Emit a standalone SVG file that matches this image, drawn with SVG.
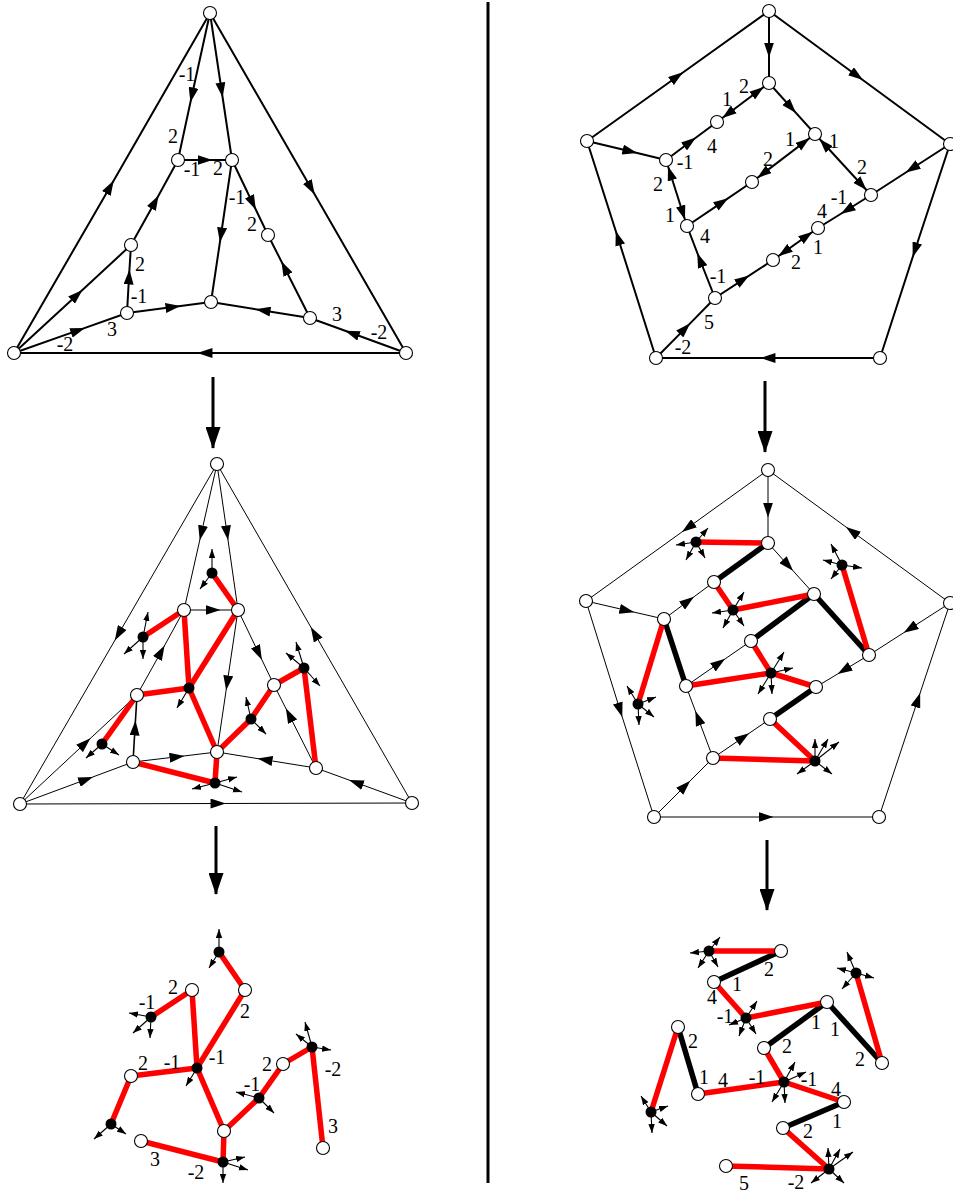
<svg xmlns="http://www.w3.org/2000/svg" width="953" height="1196" viewBox="0 0 953 1196">
<defs>
<marker id="ah" markerUnits="userSpaceOnUse" markerWidth="15" markerHeight="10" viewBox="0 0 14 9.4" refX="7" refY="4.7" orient="auto"><path d="M0,0 L14,4.7 L0,9.4 z" fill="#000"/></marker>
<marker id="ae" markerUnits="userSpaceOnUse" markerWidth="21" markerHeight="10" viewBox="0 0 20.5 9.4" refX="20.5" refY="4.7" orient="auto-start-reverse"><path d="M0,0 L14,4.7 L0,9.4 z" fill="#000"/></marker>
<marker id="sa" markerUnits="userSpaceOnUse" markerWidth="9" markerHeight="7" viewBox="0 0 8.5 6" refX="8.5" refY="3" orient="auto"><path d="M0,0 L8.5,3 L0,6 z" fill="#000"/></marker>
<marker id="big" markerUnits="userSpaceOnUse" markerWidth="22" markerHeight="15" viewBox="0 0 22 15" refX="21" refY="7.5" orient="auto"><path d="M0,0 L22,7.5 L0,15 z" fill="#000"/></marker>
</defs>
<style>
.e{stroke:#000;stroke-width:2;fill:none;marker-mid:url(#ah)}
.d{stroke:#000;stroke-width:2;fill:none;marker-start:url(#ae);marker-end:url(#ae)}
.t{stroke:#000;stroke-width:1;fill:none;marker-mid:url(#ah)}
.r{stroke:#f00;stroke-width:5.5;fill:none}
.k{stroke:#000;stroke-width:5.5;fill:none}
.s{stroke:#000;stroke-width:1.1;fill:none;marker-end:url(#sa)}
.n{fill:#fff;stroke:#000;stroke-width:1.1}
.b{fill:#000}
.bg{stroke:#000;stroke-width:3;fill:none;marker-end:url(#big)}
text{font-family:"Liberation Serif","DejaVu Serif",serif;font-size:20px;text-anchor:middle;fill:#000}
</style>
<rect width="953" height="1196" fill="#fff"/>
<g id="connectors">
<line x1="488" y1="2" x2="488" y2="1183" stroke="#000" stroke-width="3"/>
<path class="bg" d="M213 377 L213 448"/>
<path class="bg" d="M216 826 L216 894"/>
<path class="bg" d="M765 381 L765 452"/>
<path class="bg" d="M767 840 L767 910"/>
<!-- panel A -->
<path class="e" d="M14 353 L110 187 L210 13"/>
<path class="e" d="M210 13 L311 188 L406 353"/>
<path class="e" d="M210 13 L192 95 L178 160"/>
<path class="e" d="M210 13 L221.5 90 L232 160"/>
<path class="e" d="M178 160 L205 160 L232 160"/>
<path class="e" d="M131 245 L155 202 L178 160"/>
<path class="e" d="M232 160 L221 235 L211 302"/>
<path class="e" d="M232 160 L252.6 203 L268 235"/>
<path class="e" d="M14 353 L77 295 L131 245"/>
<path class="e" d="M127 313 L129 277 L131 245"/>
<path class="e" d="M127 313 L173 307 L211 302"/>
<path class="e" d="M14 353 L78 330.4 L127 313"/>
<path class="e" d="M310 318 L263 310.4 L211 302"/>
<path class="e" d="M310 318 L284.7 268 L268 235"/>
<path class="e" d="M406 353 L352 333.3 L310 318"/>
<path class="e" d="M406 353 L205 353 L14 353"/>
<!-- panel B -->
<path class="e" d="M587 141 L677 76.7 L769 11"/>
<path class="e" d="M769 11 L857 75.7 L950 144"/>
<path class="e" d="M769 11 L769 50 L769 83"/>
<path class="e" d="M769 83 L791 107.4 L815 134"/>
<path class="e" d="M666 160 L690 142 L717 122"/>
<path class="e" d="M587 141 L630 151.3 L666 160"/>
<path class="e" d="M687 226 L722 202.3 L752 182"/>
<path class="e" d="M950 144 L912 168.5 L871 195"/>
<path class="e" d="M871 195 L847 210 L818 228"/>
<path class="e" d="M715 298 L743 279.6 L773 260"/>
<path class="e" d="M715 298 L700 260 L687 226"/>
<path class="e" d="M656 358 L685 328.6 L715 298"/>
<path class="e" d="M656 358 L618 238 L587 141"/>
<path class="e" d="M950 144 L915 250 L880 358"/>
<path class="e" d="M880 358 L768 358 L656 358"/>
<path class="d" d="M769 83 L717 122"/>
<path class="d" d="M666 160 L687 226"/>
<path class="d" d="M752 182 L815 134"/>
<path class="d" d="M815 134 L871 195"/>
<path class="d" d="M818 228 L773 260"/>
<!-- panel C -->
<path class="t" d="M217 464 L118.5 634 L20 804"/>
<path class="t" d="M412 803 L314.5 633.5 L217 464"/>
<path class="t" d="M217 464 L201.4 533 L184 610"/>
<path class="t" d="M217 464 L227 533 L238 610"/>
<path class="t" d="M184 610 L213 610 L238 610"/>
<path class="t" d="M137 695 L161 652 L184 610"/>
<path class="t" d="M238 610 L258.6 653 L274 685"/>
<path class="t" d="M238 610 L227.2 683 L217 752"/>
<path class="t" d="M20 804 L85 743.4 L137 695"/>
<path class="t" d="M133 762 L135 728 L137 695" style="stroke-width:1.6"/>
<path class="t" d="M133 762 L177 756.8 L217 752"/>
<path class="t" d="M20 804 L86 779.5 L133 762"/>
<path class="t" d="M316 768 L265 759.8 L217 752"/>
<path class="t" d="M316 768 L289.2 715 L274 685"/>
<path class="t" d="M412 803 L356 782.6 L316 768"/>
<path class="t" d="M20 804 L218 803.5 L412 803"/>
<path class="r" d="M212 573 L238 610"/>
<path class="r" d="M184 610 L143 637"/>
<path class="r" d="M184 610 L189 688"/>
<path class="r" d="M238 610 L189 688"/>
<path class="r" d="M137 695 L189 688"/>
<path class="r" d="M137 695 L102 744"/>
<path class="r" d="M189 688 L217 752"/>
<path class="r" d="M217 752 L251 719"/>
<path class="r" d="M251 719 L274 685"/>
<path class="r" d="M274 685 L304 668"/>
<path class="r" d="M304 668 L316 768"/>
<path class="r" d="M217 752 L215 783"/>
<path class="r" d="M133 762 L215 783"/>
<!-- panel D -->
<path class="t" d="M768 470 L688 527.6 L586 601"/>
<path class="t" d="M950 603 L852 531.4 L768 470"/>
<path class="t" d="M768 470 L768 510 L768 543"/>
<path class="t" d="M768 543 L788 565.2 L814 594"/>
<path class="t" d="M586 601 L627 610.5 L664 619"/>
<path class="t" d="M664 619 L688 601.2 L714 582"/>
<path class="t" d="M950 603 L910 628.7 L869 655"/>
<path class="t" d="M686 686 L719 663.1 L751 641"/>
<path class="t" d="M869 655 L844 670.1 L816 687"/>
<path class="t" d="M713 758 L698 718 L686 686"/>
<path class="t" d="M713 758 L743 737.5 L770 719"/>
<path class="t" d="M654 817 L685 786 L713 758"/>
<path class="t" d="M586 601 L620 710 L654 817"/>
<path class="t" d="M879 817 L917.8 700 L950 603"/>
<path class="t" d="M654 817 L766 817 L879 817"/>
<path class="k" d="M768 543 L714 582"/>
<path class="k" d="M814 594 L751 641"/>
<path class="k" d="M814 594 L869 655"/>
<path class="k" d="M664 619 L686 686"/>
<path class="k" d="M816 687 L770 719"/>
<path class="r" d="M696 542 L768 543"/>
<path class="r" d="M714 582 L733 610"/>
<path class="r" d="M733 610 L814 594"/>
<path class="r" d="M842 565 L869 655"/>
<path class="r" d="M664 619 L638 704"/>
<path class="r" d="M751 641 L771 673"/>
<path class="r" d="M771 673 L686 686"/>
<path class="r" d="M771 673 L816 687"/>
<path class="r" d="M770 719 L815 761"/>
<path class="r" d="M713 758 L815 761"/>
<!-- panel E -->
<path class="r" d="M219 952 L245 990"/>
<path class="r" d="M192 990 L151 1017"/>
<path class="r" d="M192 990 L197 1068"/>
<path class="r" d="M245 990 L197 1068"/>
<path class="r" d="M131 1076 L197 1068"/>
<path class="r" d="M131 1076 L111 1124"/>
<path class="r" d="M197 1068 L224 1131"/>
<path class="r" d="M224 1131 L259 1098"/>
<path class="r" d="M259 1098 L283 1064"/>
<path class="r" d="M283 1064 L312 1047"/>
<path class="r" d="M312 1047 L323 1148"/>
<path class="r" d="M224 1131 L223 1162"/>
<path class="r" d="M141 1141 L223 1162"/>
<!-- panel F -->
<path class="k" d="M781 951 L714 982"/>
<path class="k" d="M827 1002 L764 1048"/>
<path class="k" d="M827 1002 L882 1063"/>
<path class="k" d="M678 1027 L698 1094"/>
<path class="k" d="M844 1102 L783 1128"/>
<path class="r" d="M709 951 L781 951"/>
<path class="r" d="M714 982 L746 1018"/>
<path class="r" d="M746 1018 L827 1002"/>
<path class="r" d="M856 973 L882 1063"/>
<path class="r" d="M678 1027 L651 1112"/>
<path class="r" d="M764 1048 L784 1082"/>
<path class="r" d="M784 1082 L698 1094"/>
<path class="r" d="M784 1082 L844 1102"/>
<path class="r" d="M783 1128 L829 1169"/>
<path class="r" d="M726 1166 L829 1169"/>
</g>
<!-- panel A nodes -->
<g id="A-T"><circle class="n" cx="210" cy="13" r="6.5"/></g>
<g id="A-L"><circle class="n" cx="14" cy="353" r="6.5"/></g>
<g id="A-R"><circle class="n" cx="406" cy="353" r="6.5"/></g>
<g id="A-a"><circle class="n" cx="178" cy="160" r="6.5"/></g>
<g id="A-b"><circle class="n" cx="232" cy="160" r="6.5"/></g>
<g id="A-c"><circle class="n" cx="131" cy="245" r="6.5"/></g>
<g id="A-d"><circle class="n" cx="268" cy="235" r="6.5"/></g>
<g id="A-e"><circle class="n" cx="127" cy="313" r="6.5"/></g>
<g id="A-f"><circle class="n" cx="211" cy="302" r="6.5"/></g>
<g id="A-g"><circle class="n" cx="310" cy="318" r="6.5"/></g>
<!-- panel B nodes -->
<g id="B-P1"><circle class="n" cx="769" cy="11" r="6.5"/></g>
<g id="B-P2"><circle class="n" cx="587" cy="141" r="6.5"/></g>
<g id="B-P3"><circle class="n" cx="950" cy="144" r="6.5"/></g>
<g id="B-P4"><circle class="n" cx="656" cy="358" r="6.5"/></g>
<g id="B-P5"><circle class="n" cx="880" cy="358" r="6.5"/></g>
<g id="B-q1"><circle class="n" cx="769" cy="83" r="6.5"/></g>
<g id="B-q2"><circle class="n" cx="717" cy="122" r="6.5"/></g>
<g id="B-q3"><circle class="n" cx="666" cy="160" r="6.5"/></g>
<g id="B-q4"><circle class="n" cx="815" cy="134" r="6.5"/></g>
<g id="B-q5"><circle class="n" cx="752" cy="182" r="6.5"/></g>
<g id="B-q6"><circle class="n" cx="871" cy="195" r="6.5"/></g>
<g id="B-q7"><circle class="n" cx="687" cy="226" r="6.5"/></g>
<g id="B-q8"><circle class="n" cx="818" cy="228" r="6.5"/></g>
<g id="B-q9"><circle class="n" cx="773" cy="260" r="6.5"/></g>
<g id="B-q10"><circle class="n" cx="715" cy="298" r="6.5"/></g>
<!-- panel C nodes -->
<g id="C-T"><circle class="n" cx="217" cy="464" r="6.5"/></g>
<g id="C-L"><circle class="n" cx="20" cy="804" r="6.5"/></g>
<g id="C-R"><circle class="n" cx="412" cy="803" r="6.5"/></g>
<g id="C-a"><circle class="n" cx="184" cy="610" r="6.5"/></g>
<g id="C-b"><circle class="n" cx="238" cy="610" r="6.5"/></g>
<g id="C-c"><circle class="n" cx="137" cy="695" r="6.5"/></g>
<g id="C-d"><circle class="n" cx="274" cy="685" r="6.5"/></g>
<g id="C-e"><circle class="n" cx="133" cy="762" r="6.5"/></g>
<g id="C-f"><circle class="n" cx="217" cy="752" r="6.5"/></g>
<g id="C-g"><circle class="n" cx="316" cy="768" r="6.5"/></g>
<g id="C-h1"><path class="s" d="M212 573 L212 549"/><path class="s" d="M212 573 L200 589"/><circle class="b" cx="212" cy="573" r="5.5"/></g>
<g id="C-h2"><path class="s" d="M143 637 L148 612"/><path class="s" d="M143 637 L124 654"/><path class="s" d="M143 637 L143 659"/><circle class="b" cx="143" cy="637" r="5.5"/></g>
<g id="C-h3"><path class="s" d="M189 688 L177 708"/><circle class="b" cx="189" cy="688" r="5.5"/></g>
<g id="C-h4"><path class="s" d="M102 744 L86 758"/><path class="s" d="M102 744 L119 755"/><circle class="b" cx="102" cy="744" r="5.5"/></g>
<g id="C-h5"><path class="s" d="M251 719 L246 697"/><path class="s" d="M251 719 L266 734"/><circle class="b" cx="251" cy="719" r="5.5"/></g>
<g id="C-h6"><path class="s" d="M304 668 L296 642"/><path class="s" d="M304 668 L286 653"/><path class="s" d="M304 668 L320 686"/><circle class="b" cx="304" cy="668" r="5.5"/></g>
<g id="C-h7"><path class="s" d="M215 783 L192 789"/><path class="s" d="M215 783 L237 777"/><path class="s" d="M215 783 L242 792"/><circle class="b" cx="215" cy="783" r="5.5"/></g>
<!-- panel D nodes -->
<g id="D-P1"><circle class="n" cx="768" cy="470" r="6.5"/></g>
<g id="D-P2"><circle class="n" cx="586" cy="601" r="6.5"/></g>
<g id="D-P3"><circle class="n" cx="950" cy="603" r="6.5"/></g>
<g id="D-P4"><circle class="n" cx="654" cy="817" r="6.5"/></g>
<g id="D-P5"><circle class="n" cx="879" cy="817" r="6.5"/></g>
<g id="D-q1"><circle class="n" cx="768" cy="543" r="6.5"/></g>
<g id="D-q2"><circle class="n" cx="714" cy="582" r="6.5"/></g>
<g id="D-q3"><circle class="n" cx="664" cy="619" r="6.5"/></g>
<g id="D-q4"><circle class="n" cx="814" cy="594" r="6.5"/></g>
<g id="D-q5"><circle class="n" cx="751" cy="641" r="6.5"/></g>
<g id="D-q6"><circle class="n" cx="869" cy="655" r="6.5"/></g>
<g id="D-q7"><circle class="n" cx="686" cy="686" r="6.5"/></g>
<g id="D-q8"><circle class="n" cx="816" cy="687" r="6.5"/></g>
<g id="D-q9"><circle class="n" cx="770" cy="719" r="6.5"/></g>
<g id="D-q10"><circle class="n" cx="713" cy="758" r="6.5"/></g>
<g id="D-k1"><path class="s" d="M696 542 L708 528"/><path class="s" d="M696 542 L676 545"/><path class="s" d="M696 542 L686 560"/><path class="s" d="M696 542 L705 558"/><circle class="b" cx="696" cy="542" r="5.5"/></g>
<g id="D-k2"><path class="s" d="M842 565 L831 544"/><path class="s" d="M842 565 L823 560"/><path class="s" d="M842 565 L831 579"/><path class="s" d="M842 565 L862 568"/><circle class="b" cx="842" cy="565" r="5.5"/></g>
<g id="D-k3"><path class="s" d="M733 610 L744 592"/><path class="s" d="M733 610 L712 613"/><path class="s" d="M733 610 L723 628"/><path class="s" d="M733 610 L744 626"/><circle class="b" cx="733" cy="610" r="5.5"/></g>
<g id="D-k4"><path class="s" d="M638 704 L627 686"/><path class="s" d="M638 704 L656 697"/><path class="s" d="M638 704 L639 725"/><path class="s" d="M638 704 L654 717"/><circle class="b" cx="638" cy="704" r="5.5"/></g>
<g id="D-k5"><path class="s" d="M771 673 L784 652"/><path class="s" d="M771 673 L793 668"/><path class="s" d="M771 673 L758 694"/><path class="s" d="M771 673 L772 694"/><circle class="b" cx="771" cy="673" r="5.5"/></g>
<g id="D-k6"><path class="s" d="M815 761 L815 739"/><path class="s" d="M815 761 L828 739"/><path class="s" d="M815 761 L839 742"/><path class="s" d="M815 761 L797 774"/><path class="s" d="M815 761 L832 774"/><circle class="b" cx="815" cy="761" r="5.5"/></g>
<!-- panel E nodes -->
<g id="E-a"><circle class="n" cx="192" cy="990" r="6.5"/></g>
<g id="E-b"><circle class="n" cx="245" cy="990" r="6.5"/></g>
<g id="E-c"><circle class="n" cx="131" cy="1076" r="6.5"/></g>
<g id="E-d"><circle class="n" cx="283" cy="1064" r="6.5"/></g>
<g id="E-e"><circle class="n" cx="141" cy="1141" r="6.5"/></g>
<g id="E-f"><circle class="n" cx="224" cy="1131" r="6.5"/></g>
<g id="E-g"><circle class="n" cx="323" cy="1148" r="6.5"/></g>
<g id="E-h1"><path class="s" d="M219 952 L219 929"/><path class="s" d="M219 952 L209 968"/><circle class="b" cx="219" cy="952" r="5.5"/></g>
<g id="E-h2"><path class="s" d="M151 1017 L129 1013"/><path class="s" d="M151 1017 L133 1033"/><path class="s" d="M151 1017 L150 1038"/><circle class="b" cx="151" cy="1017" r="5.5"/></g>
<g id="E-h3"><path class="s" d="M197 1068 L186 1086"/><circle class="b" cx="197" cy="1068" r="5.5"/></g>
<g id="E-h4"><path class="s" d="M111 1124 L94 1139"/><path class="s" d="M111 1124 L126 1134"/><circle class="b" cx="111" cy="1124" r="5.5"/></g>
<g id="E-h5"><path class="s" d="M259 1098 L236 1092"/><path class="s" d="M259 1098 L274 1113"/><circle class="b" cx="259" cy="1098" r="5.5"/></g>
<g id="E-h6"><path class="s" d="M312 1047 L305 1022"/><path class="s" d="M312 1047 L296 1034"/><path class="s" d="M312 1047 L331 1050"/><circle class="b" cx="312" cy="1047" r="5.5"/></g>
<g id="E-h7"><path class="s" d="M223 1162 L245 1157"/><path class="s" d="M223 1162 L248 1170"/><path class="s" d="M223 1162 L223 1183"/><circle class="b" cx="223" cy="1162" r="5.5"/></g>
<!-- panel F nodes -->
<g id="F-q1"><circle class="n" cx="781" cy="951" r="6.5"/></g>
<g id="F-q2"><circle class="n" cx="714" cy="982" r="6.5"/></g>
<g id="F-q3"><circle class="n" cx="678" cy="1027" r="6.5"/></g>
<g id="F-q4"><circle class="n" cx="827" cy="1002" r="6.5"/></g>
<g id="F-q5"><circle class="n" cx="764" cy="1048" r="6.5"/></g>
<g id="F-q6"><circle class="n" cx="882" cy="1063" r="6.5"/></g>
<g id="F-q7"><circle class="n" cx="698" cy="1094" r="6.5"/></g>
<g id="F-q8"><circle class="n" cx="844" cy="1102" r="6.5"/></g>
<g id="F-q9"><circle class="n" cx="783" cy="1128" r="6.5"/></g>
<g id="F-q10"><circle class="n" cx="726" cy="1166" r="6.5"/></g>
<g id="F-k1"><path class="s" d="M709 951 L720 937"/><path class="s" d="M709 951 L690 953"/><path class="s" d="M709 951 L698 968"/><path class="s" d="M709 951 L718 967"/><circle class="b" cx="709" cy="951" r="5.5"/></g>
<g id="F-k2"><path class="s" d="M856 973 L847 952"/><path class="s" d="M856 973 L837 968"/><path class="s" d="M856 973 L842 989"/><path class="s" d="M856 973 L874 978"/><circle class="b" cx="856" cy="973" r="5.5"/></g>
<g id="F-k3"><path class="s" d="M746 1018 L757 1001"/><path class="s" d="M746 1018 L729 1025"/><path class="s" d="M746 1018 L739 1036"/><path class="s" d="M746 1018 L756 1034"/><circle class="b" cx="746" cy="1018" r="5.5"/></g>
<g id="F-k4"><path class="s" d="M651 1112 L641 1096"/><path class="s" d="M651 1112 L668 1106"/><path class="s" d="M651 1112 L652 1133"/><path class="s" d="M651 1112 L667 1126"/><circle class="b" cx="651" cy="1112" r="5.5"/></g>
<g id="F-k5"><path class="s" d="M784 1082 L795 1062"/><path class="s" d="M784 1082 L806 1072"/><path class="s" d="M784 1082 L772 1102"/><path class="s" d="M784 1082 L785 1103"/><circle class="b" cx="784" cy="1082" r="5.5"/></g>
<g id="F-k6"><path class="s" d="M829 1169 L828 1148"/><path class="s" d="M829 1169 L840 1149"/><path class="s" d="M829 1169 L853 1152"/><path class="s" d="M829 1169 L811 1183"/><path class="s" d="M829 1169 L844 1183"/><circle class="b" cx="829" cy="1169" r="5.5"/></g>
<g id="labels">
<text x="187" y="81">-1</text><text x="173" y="143">2</text><text x="192" y="176">-1</text><text x="218" y="175">2</text>
<text x="237" y="204">-1</text><text x="252" y="231">2</text><text x="140" y="271">2</text><text x="139" y="303">-1</text>
<text x="112" y="336">3</text><text x="65" y="351">-2</text><text x="337" y="321">3</text><text x="379" y="339">-2</text>
<text x="744" y="93">2</text><text x="727" y="106">1</text><text x="712" y="153">4</text><text x="685" y="169">-1</text>
<text x="790" y="146">1</text><text x="834" y="148">1</text><text x="768" y="166">2</text><text x="658" y="191">2</text>
<text x="862" y="174">2</text><text x="670" y="222">1</text><text x="705" y="243">4</text><text x="839" y="204">-1</text>
<text x="822" y="218">4</text><text x="818" y="254">1</text><text x="796" y="269">2</text><text x="718" y="283">-1</text>
<text x="709" y="329">5</text><text x="683" y="354">-2</text>
<text x="245" y="1018">2</text><text x="173" y="994">2</text><text x="147" y="1009">-1</text><text x="172" y="1069">-1</text>
<text x="217" y="1064">-1</text><text x="143" y="1070">2</text><text x="155" y="1166">3</text><text x="196" y="1179">-2</text>
<text x="252" y="1091">-1</text><text x="267" y="1071">2</text><text x="333" y="1076">-2</text><text x="333" y="1133">3</text>
<text x="769" y="976">2</text><text x="737" y="991">1</text><text x="712" y="1004">4</text><text x="725" y="1023">-1</text>
<text x="816" y="1029">1</text><text x="835" y="1036">1</text><text x="860" y="1066">2</text><text x="787" y="1053">2</text>
<text x="693" y="1048">2</text><text x="704" y="1084">1</text><text x="723" y="1087">4</text><text x="757" y="1084">-1</text>
<text x="809" y="1086">-1</text><text x="836" y="1096">4</text><text x="837" y="1128">1</text><text x="808" y="1138">2</text>
<text x="796" y="1189">-2</text><text x="744" y="1190">5</text>
</g>
</svg>
